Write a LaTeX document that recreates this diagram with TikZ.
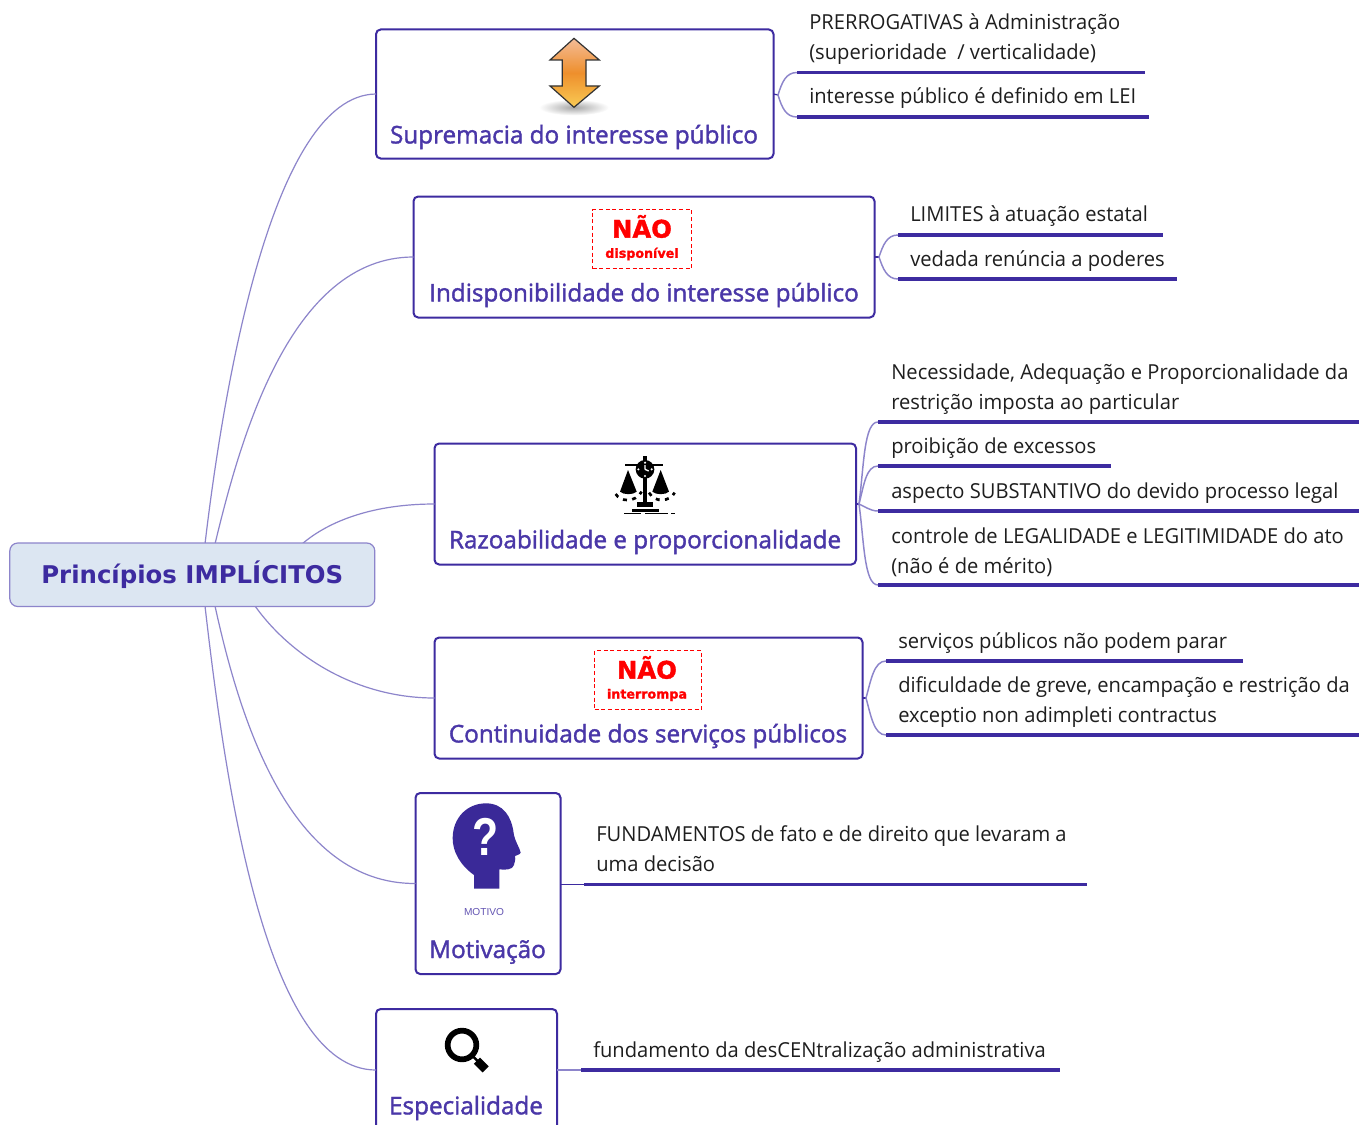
\documentclass[tikz,border=0pt]{standalone}
\usepackage{graphicx}
\usepackage{fontspec}
\setmainfont[FakeStretch=0.975]{Open Sans}
\newfontfamily\titlefont[FakeBold=1.6]{Open Sans}
\newfontfamily\rootfont{DejaVu Sans}
\newfontfamily\warnfont[BoldFeatures={FakeBold=1.5}]{DejaVu Sans}
\newfontfamily\iconfont{Liberation Sans}
\definecolor{ink}{HTML}{3D2BA0}
\definecolor{titleink}{HTML}{4A37A8}
\definecolor{curve}{HTML}{8D85CB}
\definecolor{rootfill}{HTML}{DCE6F2}
\definecolor{bodyink}{HTML}{1E1E1E}
\definecolor{arrowtop}{HTML}{F4BC98}
\definecolor{arrowmid}{HTML}{EE8F2C}
\definecolor{arrowbot}{HTML}{F9CB55}
\tikzset{
  branchbox/.style={draw=ink,line width=1.5pt,rounded corners=3.5pt,fill=white,inner sep=0pt,outer sep=0pt,anchor=north west},
  branchtitle/.style={inner sep=0pt,font=\titlefont\fontsize{18.2}{22}\selectfont,text=titleink,anchor=center},
  leaftext/.style={inner sep=0pt,anchor=west,align=left,text=bodyink,font=\fontsize{15.5}{22.2}\selectfont},
  leafline/.style={draw=ink,line width=2.3pt},
  branchcurve/.style={draw=curve,line width=0.9pt},
  leafcurve/.style={draw=curve,line width=1.1pt},
  stub/.style={draw=ink,line width=0.9pt},
  warnbox/.style={draw=red,dash pattern=on 3pt off 2pt,line width=0.7pt,fill=white,inner sep=0pt,outer sep=0pt,anchor=north west},
  warnbig/.style={inner sep=0pt,text=red,font=\warnfont\bfseries\fontsize{18.2}{22}\selectfont},
  warnsmall/.style={inner sep=0pt,text=red,font=\warnfont\bfseries\fontsize{9.5}{12}\selectfont},
}
\begin{document}
\begin{tikzpicture}[x=0.75pt,y=-0.75pt]
\useasboundingbox (0,0) rectangle (1359,1124);
\clip (0,0) rectangle (1359,1124);
\fill[white] (0,0) rectangle (1359,1124);

% branch start points on the root
\coordinate (r1) at (205,544);
\coordinate (r2) at (215,544);
\coordinate (r3) at (302,544);
\coordinate (r4) at (255,606);
\coordinate (r5) at (215,606);
\coordinate (r6) at (205,606);

% boxes
\node[branchbox,minimum width=397.5*0.75pt,minimum height=129*0.75pt] (b1) at (376,29.5) {};
\node[branchbox,minimum width=461*0.75pt,minimum height=121*0.75pt] (b2) at (413.5,196.5) {};
\node[branchbox,minimum width=421.5*0.75pt,minimum height=121*0.75pt] (b3) at (434.5,443.5) {};
\node[branchbox,minimum width=428*0.75pt,minimum height=121*0.75pt] (b4) at (434.5,637.5) {};
\node[branchbox,minimum width=145*0.75pt,minimum height=181*0.75pt] (b5) at (415.5,793) {};
\node[branchbox,minimum width=181*0.75pt,minimum height=122*0.75pt] (b6) at (376,1009) {};

% branch curves
\draw[branchcurve] (r1) .. controls (222,400) and (270,95) .. (b1.west);
\draw[branchcurve] (r2) .. controls (240,440) and (290,257) .. (b2.west);
\draw[branchcurve] (r3) .. controls (330,520) and (375,504) .. (b3.west);
\draw[branchcurve] (r4) .. controls (290,655) and (355,698) .. (b4.west);
\draw[branchcurve] (r5) .. controls (240,720) and (290,884) .. (b5.west);
\draw[branchcurve] (r6) .. controls (225,780) and (265,1070) .. (b6.west);

% root
\node[draw=curve,line width=0.9pt,fill=rootfill,rounded corners=6pt,minimum width=365*0.75pt,minimum height=63.5*0.75pt,inner sep=0pt,outer sep=0pt,text=ink,font=\rootfont\bfseries\fontsize{18.3}{22}\selectfont,anchor=north west] (root) at (9.8,543) {\raisebox{-0.7pt}{Princípios IMPLÍCITOS}};

% titles
\node[branchtitle] (t1) at (574,137) {Supremacia do interesse público};
\node[branchtitle] (t2) at (644,295) {Indisponibilidade do interesse público};
\node[branchtitle] (t3) at (645,542) {Razoabilidade e proporcionalidade};
\node[branchtitle] (t4) at (648,736) {Continuidade dos serviços públicos};
\node[branchtitle] (t5) at (487.5,952) {Motivação};
\node[branchtitle] (t6) at (466,1108) {Especialidade};

% --- leaf group 1
\coordinate (l1a) at (797,72.5);  \coordinate (l1b) at (1145,72.5);
\coordinate (l2a) at (797,117);   \coordinate (l2b) at (1149,117);
\coordinate (j1) at (778,95);
\draw[stub] (b1.east) -- (j1);
\draw[leafcurve] (j1) .. controls (782,82) and (786,72.5) .. (l1a);
\draw[leafcurve] (j1) .. controls (782,108) and (786,117) .. (l2a);
\draw[leafline] (l1a) -- (l1b);
\draw[leafline] (l2a) -- (l2b);
\node[leaftext] (x1) at (809,39) {PRERROGATIVAS à Administração\\(superioridade~ / verticalidade)};
\node[leaftext] (x2) at (809,98) {interesse público é definido em LEI};

% --- leaf group 2
\coordinate (l3a) at (898,235);  \coordinate (l3b) at (1163,235);
\coordinate (l4a) at (898,279);  \coordinate (l4b) at (1177,279);
\coordinate (j2) at (879,257);
\draw[stub] (b2.east) -- (j2);
\draw[leafcurve] (j2) .. controls (883,245) and (887,235) .. (l3a);
\draw[leafcurve] (j2) .. controls (883,269) and (887,279) .. (l4a);
\draw[leafline] (l3a) -- (l3b);
\draw[leafline] (l4a) -- (l4b);
\node[leaftext] (x3) at (910,216) {LIMITES à atuação estatal};
\node[leaftext] (x4) at (910,261) {vedada renúncia a poderes};

% --- leaf group 3
\coordinate (l5a) at (878,422);  \coordinate (l5b) at (1359,422);
\coordinate (l6a) at (878,466);  \coordinate (l6b) at (1111,466);
\coordinate (l7a) at (878,511);  \coordinate (l7b) at (1359,511);
\coordinate (l8a) at (878,585);  \coordinate (l8b) at (1359,585);
\coordinate (j3) at (859,504);
\draw[stub] (b3.east) -- (j3);
\draw[leafcurve] (j3) .. controls (864,465) and (864,422) .. (l5a);
\draw[leafcurve] (j3) .. controls (864,485) and (866,466) .. (l6a);
\draw[leafcurve] (j3) .. controls (864,506) and (870,511) .. (l7a);
\draw[leafcurve] (j3) .. controls (864,540) and (864,585) .. (l8a);
\draw[leafline] (l5a) -- (l5b);
\draw[leafline] (l6a) -- (l6b);
\draw[leafline] (l7a) -- (l7b);
\draw[leafline] (l8a) -- (l8b);
\node[leaftext] (x5) at (891,389) {Necessidade, Adequação e Proporcionalidade da\\restrição imposta ao particular};
\node[leaftext] (x6) at (891,448) {proibição de excessos};
\node[leaftext] (x7) at (891,493) {aspecto SUBSTANTIVO do devido processo legal};
\node[leaftext] (x8) at (891,552) {controle de LEGALIDADE e LEGITIMIDADE do ato\\(não é de mérito)};

% --- leaf group 4
\coordinate (l9a) at (886,661);   \coordinate (l9b) at (1243,661);
\coordinate (l10a) at (886,735);  \coordinate (l10b) at (1359,735);
\coordinate (j4) at (866,698);
\draw[stub] (b4.east) -- (j4);
\draw[leafcurve] (j4) .. controls (871,680) and (874,661) .. (l9a);
\draw[leafcurve] (j4) .. controls (871,716) and (874,735) .. (l10a);
\draw[leafline] (l9a) -- (l9b);
\draw[leafline] (l10a) -- (l10b);
\node[leaftext] (x9) at (898,643) {serviços públicos não podem parar};
\node[leaftext] (x10) at (898,702) {dificuldade de greve, encampação e restrição da\\exceptio non adimpleti contractus};

% --- leaf group 5
\coordinate (l11a) at (584,884.5); \coordinate (l11b) at (1087,884.5);
\draw[stub] (b5.east |- l11a) -- (l11a);
\draw[leafline] (l11a) -- (l11b);
\node[leaftext] (x11) at (596,848.5) {FUNDAMENTOS de fato e de direito que levaram a\\uma decisão};

% --- leaf group 6
\coordinate (l12a) at (581,1070); \coordinate (l12b) at (1060,1070);
\draw[leafcurve] (b6.east) -- (l12a);
\draw[leafline] (l12a) -- (l12b);
\node[leaftext] (x12) at (593,1052) {fundamento da desCENtralização administrativa};

% --- warning stamps
\node[warnbox,minimum width=99*0.75pt,minimum height=59*0.75pt] (w1) at (592.5,209.5) {};
\node[warnbig] (w1a) at (642,226.5) {NÃO};
\node[warnsmall] (w1b) at (642,254) {disponível};
\node[warnbox,minimum width=107*0.75pt,minimum height=59*0.75pt] (w2) at (594.5,650.5) {};
\node[warnbig] (w2a) at (647,667.5) {NÃO};
\node[warnsmall] (w2b) at (647,695) {interrompa};

% --- double arrow icon
\begin{scope}[shift={(370,20)},scale=1/3]
  \shade[inner color=black!35,outer color=white,draw=none] (612,262) ellipse (105 and 24);
  \path[top color=arrowtop,bottom color=arrowbot,middle color=arrowmid,draw=black!80,line width=0.9pt,line join=miter]
    (612,55) -- (688,120) -- (648,120) -- (648,198) -- (688,198) -- (612,262) -- (540,198) -- (577,198) -- (577,120) -- (540,120) -- cycle;
\end{scope}

% --- balance icon
\begin{scope}[shift={(600,450)},scale=1/3]
  \fill[black] (75,43) rectangle (190,49);
  \fill[black] (130,18) rectangle (140,155);
  \fill[black] (135,58) circle (28);
  \fill[white] (135,38) circle (3.5) (135,78) circle (3.5) (115,58) circle (3.5) (155,58) circle (3.5);
  \draw[white,line width=1pt] (135,58) -- (135,45) (135,58) -- (146,63);
  \fill[black] (84,60) -- (110,125) .. controls (100,135) and (70,135) .. (60,125) -- cycle;
  \fill[black] (182,60) -- (207,125) .. controls (197,135) and (167,135) .. (157,125) -- cycle;
  \draw[black,line width=2pt,dash pattern=on 3pt off 4pt] (47,132) .. controls (60,155) and (105,160) .. (125,125);
  \draw[black,line width=2pt,dash pattern=on 3pt off 4pt] (147,128) .. controls (165,160) and (210,155) .. (224,128);
  \fill[black] (112,155) rectangle (158,172);
  \fill[black] (95,178) rectangle (178,185);
  \fill[black] (73,188) rectangle (122,192);
  \fill[black] (135,188) rectangle (205,192);
  \fill[black] (212,188) rectangle (224,192);
\end{scope}

% --- head icon
\begin{scope}[shift={(410,790)},scale=1/3]
  \fill[ink!95!black] (192,296) -- (192,255) .. controls (150,225) and (128,185) .. (128,145)
    .. controls (128,85) and (170,40) .. (228,40)
    .. controls (280,40) and (305,80) .. (311,130)
    .. controls (315,155) and (330,175) .. (332,188)
    .. controls (330,195) and (318,195) .. (315,198)
    .. controls (318,210) and (312,220) .. (312,225)
    .. controls (308,240) and (285,240) .. (268,238) -- (268,296) -- cycle;
  \node[inner sep=0pt,text=white,font=\iconfont\bfseries\fontsize{40}{42}\selectfont] (q) at (228,140) {\scalebox{0.8}[1]{?}};
\end{scope}
\node[inner sep=0pt,text=ink!80,font=\iconfont\fontsize{7.6}{9}\selectfont] (mot) at (484,912) {MOTIVO};

% --- magnifier icon
\begin{scope}[shift={(371,1005)},scale=1/3]
  \draw[black,line width=4.3pt] (273,120) circle (43);
  \draw[black,line width=1.8pt] (305,153) -- (320,168);
  \draw[black,line width=6.5pt] (318,167) -- (344,193);
\end{scope}
\end{tikzpicture}
\end{document}
